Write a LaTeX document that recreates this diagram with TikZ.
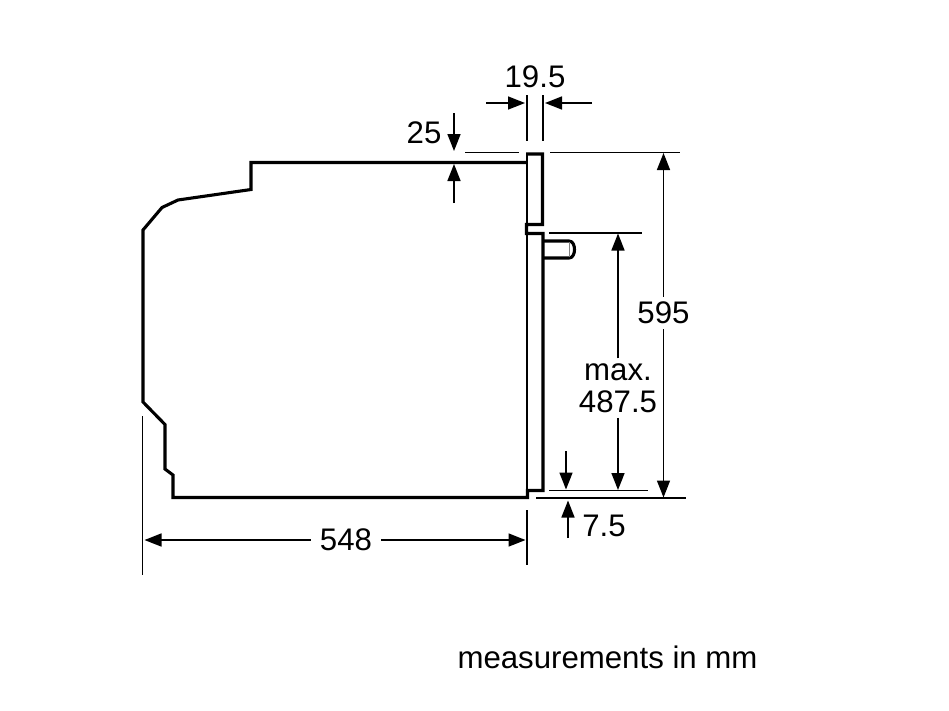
\documentclass[tikz,border=0pt]{standalone}
\usepackage{fontspec}
\setmainfont{Liberation Sans}
\usetikzlibrary{arrows.meta}
\tikzset{body/.style = {line width=3.1pt, line join=miter},
         thin line/.style = {line width=1.6pt},
         dim/.style = {line width=1.6pt, -{Triangle[length=17pt,width=13pt]}, shorten >=0.5pt},
         label/.style = {font=\fontsize{31.2}{32}\selectfont, inner xsep=9pt, inner ysep=5pt, align=center}}

\begin{document}
\begin{tikzpicture}[x=1pt,y=-1pt]
        \useasboundingbox (0,0) rectangle (949,710);

        % housing
        \draw[body](527,162.5)--(251,162.5)--(251,189.5)--(178,200)--(162,207.5)--(143,230)--(143,402)
                   --(165,424.5)--(165,469)--(173,475)--(173,497.5)--(527.5,497.5)--(527.5,490.5)--(543,490.5)
                   --(543,233.5)--(526.5,233.5)--(526.5,224.5)--(542.5,224.5)--(542.5,154)--(526,154);

        % door front, thin side
        \draw[thin line](527,154)--(527,224);
        \draw[thin line](527,233.5)--(527,491);

        % knob
        \draw[body](543,241)--(569,241)to[out=0,in=90](574.5,249.5)to[out=-90,in=0](569,258)--(543,258);
        \draw[line width=0.8pt,gray](569.5,242)--(569.5,257);

        % extension lines
        \draw[thin line](465,152.5)--(519,152.5);
        \draw[thin line](550,152.5)--(680,152.5);
        \draw[thin line](549,233)--(642,233);
        \draw[thin line](549,490.5)--(648,490.5);
        \draw[thin line](536,498)--(686,498);
        \draw[thin line](527,95)--(527,141);
        \draw[thin line](543,95)--(543,141);
        \draw[thin line](142.5,416)--(142.5,575);
        \draw[thin line](527,510)--(527,565);

        % labels
        \node[label](width)at(535,77){19.5};
        \node[label](gap)at(424,133){25};
        \node[label](height)at(663.5,313){595};
        \node[label](maxh)at(618,388){max.\\487.5};
        \node[label](foot)at(604,526){7.5};
        \node[label](depth)at(346,540){548};
        \node[label](note)at(607.5,657){measurements in mm};

        % dimension arrows
        \draw[dim](486,103)--(525.5,103);
        \draw[dim](592,103)--(544.5,103);
        \draw[dim](454,113)--(454,151.5);
        \draw[dim](454,203)--(454,163.5);
        \coordinate(hTop)at(663.5,152.5);
        \coordinate(hBot)at(663.5,498);
        \draw[dim](height)--(hTop);
        \draw[dim](height)--(hBot);
        \coordinate(mTop)at(618,233);
        \coordinate(mBot)at(618,490.5);
        \draw[dim](maxh)--(mTop);
        \draw[dim](maxh)--(mBot);
        \draw[dim](566,451)--(566,490);
        \draw[dim](568,538)--(568,500);
        \coordinate(dLeft)at(144,540);
        \coordinate(dRight)at(526,540);
        \draw[dim](depth)--(dLeft);
        \draw[dim](depth)--(dRight);
    \end{tikzpicture}
\end{document}
